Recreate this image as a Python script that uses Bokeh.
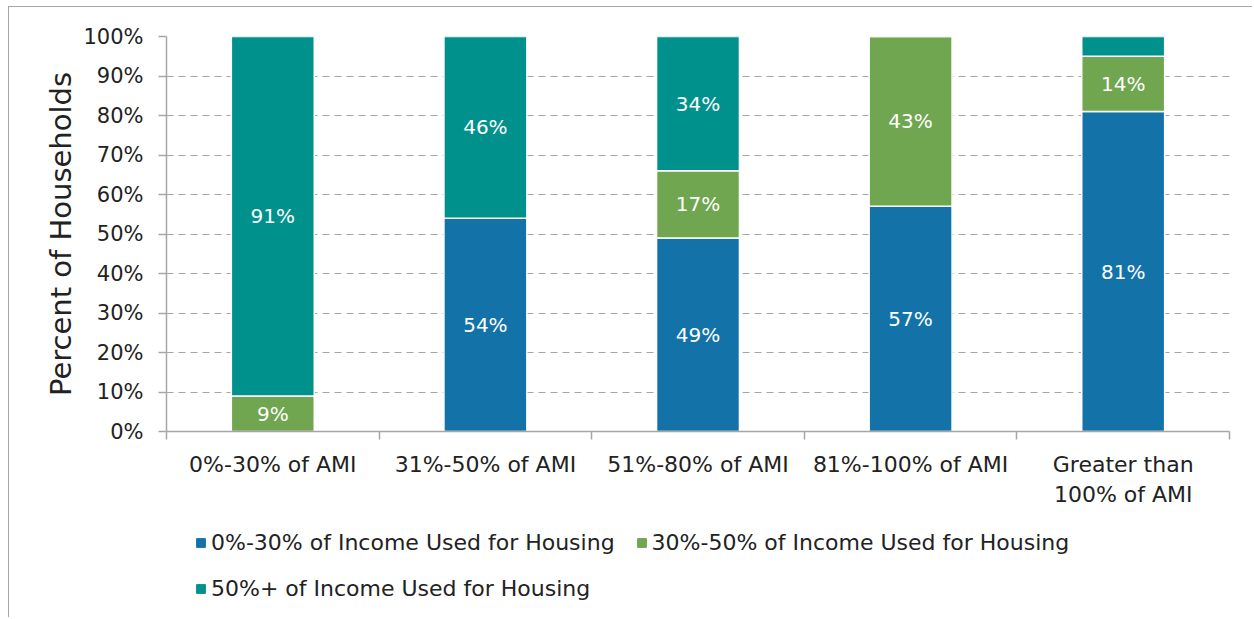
from bokeh.plotting import figure
from bokeh.layouts import column
from bokeh.models import (ColumnDataSource, FixedTicker, PrintfTickFormatter, Legend,
                          LegendItem, Range1d)
from bokeh.embed import file_html
from bokeh.resources import INLINE
from bokeh.core.properties import value

categories = ["0%-30% of AMI", "31%-50% of AMI", "51%-80% of AMI",
              "81%-100% of AMI", "Greater than\n100% of AMI"]
series_names = ["0%-30% of Income Used for Housing",
                "30%-50% of Income Used for Housing",
                "50%+ of Income Used for Housing"]
low = [0, 54, 49, 57, 81]
mid = [9, 0, 17, 43, 14]
high = [91, 46, 34, 0, 5]
y_ticks = [0, 10, 20, 30, 40, 50, 60, 70, 80, 90, 100]

colors = ["#1373A9", "#70A64F", "#00918D"]
FONT = "DejaVu Sans"
TXT = "#222222"
GREY = "#A6A6A6"

x = [i + 0.5 for i in range(len(categories))]
src = ColumnDataSource(dict(x=x, low=low, mid=mid, high=high))
stack_keys = ["low", "mid", "high"]

p = figure(width=1243, height=513, x_range=Range1d(0, len(categories)),
           y_range=Range1d(0, 100), output_backend="svg", toolbar_location=None,
           min_border_left=157, min_border_right=23, min_border_top=29,
           min_border_bottom=89)
p.outline_line_color = None

renderers = p.vbar_stack(stack_keys, x="x", width=0.39, source=src,
                         fill_color=colors, line_color="white", line_width=1.5)

# data labels
lx, ly, lt = [], [], []
for i in range(len(categories)):
    bottom = 0
    for vals in (low, mid, high):
        v = vals[i]
        if v >= 6:
            lx.append(x[i]); ly.append(bottom + v / 2); lt.append(f"{v}%")
        bottom += v
p.text(x=lx, y=ly, text=lt, text_color="white", text_align="center",
       text_baseline="middle", text_font=value(FONT), text_font_size="20px")

# y axis
p.yaxis.ticker = FixedTicker(ticks=y_ticks)
p.yaxis.formatter = PrintfTickFormatter(format="%d%%")
p.yaxis.axis_line_color = GREY
p.yaxis.axis_line_width = 1.5
p.yaxis.major_tick_line_color = GREY
p.yaxis.major_tick_line_width = 1.5
p.yaxis.major_tick_out = 8
p.yaxis.major_tick_in = 0
p.yaxis.minor_tick_line_color = None
p.yaxis.major_label_standoff = 15
p.yaxis.major_label_text_font = FONT
p.yaxis.major_label_text_font_size = "21px"
p.yaxis.major_label_text_color = TXT
p.yaxis.axis_label = "Percent of Households"
p.yaxis.axis_label_text_font = FONT
p.yaxis.axis_label_text_font_size = "29px"
p.yaxis.axis_label_text_font_style = "normal"
p.yaxis.axis_label_text_color = TXT
p.yaxis.axis_label_standoff = 2

# x axis
p.xaxis.ticker = FixedTicker(ticks=x, minor_ticks=list(range(len(categories) + 1)))
p.xaxis.major_label_overrides = {xx: c for xx, c in zip(x, categories)}
p.xaxis.axis_line_color = GREY
p.xaxis.axis_line_width = 1.5
p.xaxis.major_tick_line_color = None
p.xaxis.major_tick_out = 0
p.xaxis.major_tick_in = 0
p.xaxis.minor_tick_line_color = GREY
p.xaxis.minor_tick_line_width = 1.5
p.xaxis.minor_tick_out = 8
p.xaxis.minor_tick_in = 0
p.xaxis.major_label_standoff = 12
p.xaxis.major_label_text_font = FONT
p.xaxis.major_label_text_font_size = "22px"
p.xaxis.major_label_text_color = TXT

p.xgrid.visible = False
p.ygrid.grid_line_color = GREY
p.ygrid.grid_line_dash = "7 5"
p.ygrid.grid_line_width = 1

# legend strip below the chart (keys reuse the same series, hidden in the strip)
p2 = figure(width=1243, height=97, output_backend="svg", toolbar_location=None,
            x_axis_location=None, y_axis_location=None,
            min_border_left=157, min_border_right=23, min_border_top=0, min_border_bottom=0)
p2.outline_line_color = None
p2.grid.visible = False
key_renderers = [p2.vbar(x="x", top=k, width=0.39, source=src, fill_color=c, line_color=c,
                         visible=False)
                 for k, c in zip(stack_keys, colors)]
legend = Legend(items=[LegendItem(label=n, renderers=[r]) for n, r in zip(series_names, key_renderers)],
                orientation="horizontal", ncols=2, location=(29, 16))
legend.glyph_width = 11
legend.glyph_height = 11
legend.label_standoff = 5
legend.spacing = 21
legend.label_text_font = FONT
legend.label_text_font_size = "22px"
legend.label_text_color = TXT
legend.border_line_color = None
legend.background_fill_alpha = 0
legend.inactive_fill_alpha = 0
legend.margin = 0
legend.padding = 0
p2.add_layout(legend, "center")

layout = column(p, p2, spacing=0,
                styles={"border-top": "1px solid #A6A6A6", "border-left": "1px solid #A6A6A6",
                        "margin-left": "8px", "margin-top": "6px"})

open("out.html", "w").write(file_html(layout, INLINE))
